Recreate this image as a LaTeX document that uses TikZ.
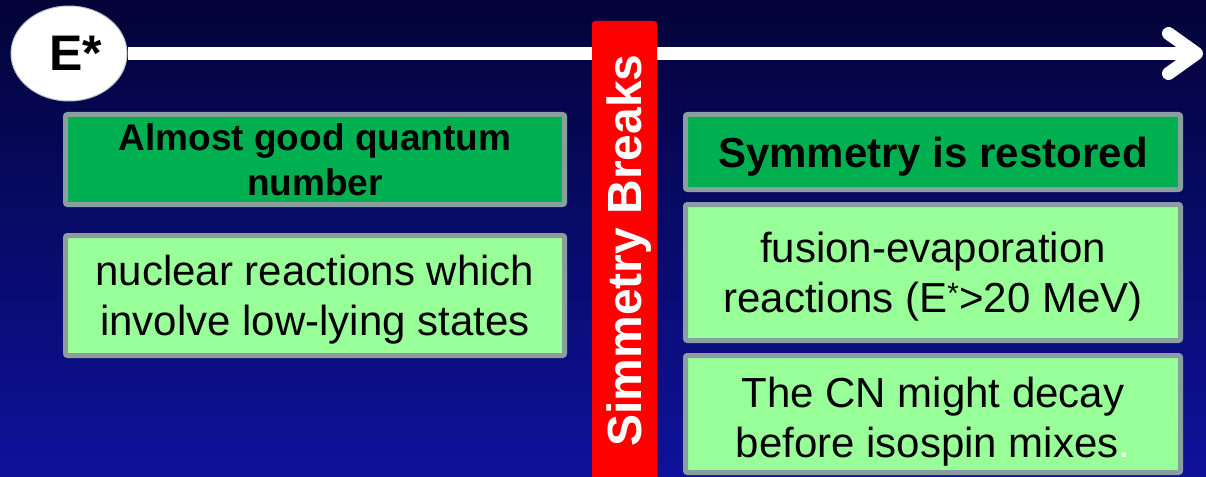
\documentclass[tikz,border=0pt]{standalone}
\usepackage{fontspec}
\setmainfont{Liberation Sans}
\usepackage{tikz}
\usetikzlibrary{arrows.meta,shapes.geometric}
\definecolor{bgtop}{RGB}{3,3,56}
\definecolor{bgbot}{RGB}{14,18,155}
\definecolor{boxgrey}{RGB}{138,158,160}
\definecolor{headgreen}{RGB}{0,176,80}
\definecolor{lightgreen}{RGB}{153,255,153}
\definecolor{barred}{RGB}{255,0,0}
\newcommand{\upstrut}[1]{\rule{0pt}{#1}}

\begin{document}
\begin{tikzpicture}[x=1pt,y=-1pt,hd/.style={draw=boxgrey,line width=5pt,fill=headgreen,rounded corners=2pt,align=center,inner sep=0pt},tx/.style={draw=boxgrey,line width=5pt,fill=lightgreen,rounded corners=2pt,align=center,inner sep=0pt,font=\fontsize{42}{50}\selectfont},ar/.style={-{Straight Barb[length=28pt,width=40pt,round]},line width=13pt,white}]
\useasboundingbox (0,0) rectangle (1206,476);
\shade[top color=bgtop,bottom color=bgbot] (0,0) rectangle (1206,476);
% energy axis
\node[ellipse,fill=white,draw=boxgrey!60,line width=1pt,minimum width=116pt,minimum height=95pt,inner sep=0pt,font=\fontsize{50}{60}\selectfont\bfseries] (es) at (69,53.5) {\hspace{13pt}E*};
\coordinate (tip) at (1203,53.5);
\draw[ar] (es.east)--(tip);
\node[fill=barred,rounded corners=3pt,rotate=90,minimum width=459pt,minimum height=65pt,inner sep=0pt,text=white,text depth=0pt,font=\fontsize{48}{56}\selectfont\bfseries] (sb) at (624.5,250.5) {Simmetry Breaks};
% left side
\node[hd,minimum width=499pt,minimum height=90pt,font=\fontsize{37}{45}\selectfont\bfseries] (lhd) at (315,159.5) {Almost good quantum\\number};
\node[tx,minimum width=499pt,minimum height=120pt] (ltx) at (315,295.5) {\upstrut{38pt}nuclear reactions which\\involve low-lying states};
% right side
\node[hd,minimum width=495pt,minimum height=75pt,text depth=0pt,font=\fontsize{42}{50}\selectfont\bfseries] (rhd) at (933,152) {Symmetry is restored};
\node[tx,minimum width=495pt,minimum height=136pt] (rtx) at (933,272.5) {\upstrut{38pt}fusion-evaporation\\reactions (E\textsuperscript{*}>20 MeV)};
\node[tx,minimum width=495pt,minimum height=117pt] (rcn) at (933,414) {\upstrut{45pt}The CN might decay\\before isospin mixes\textcolor{white}{.}};
\end{tikzpicture}
\end{document}
